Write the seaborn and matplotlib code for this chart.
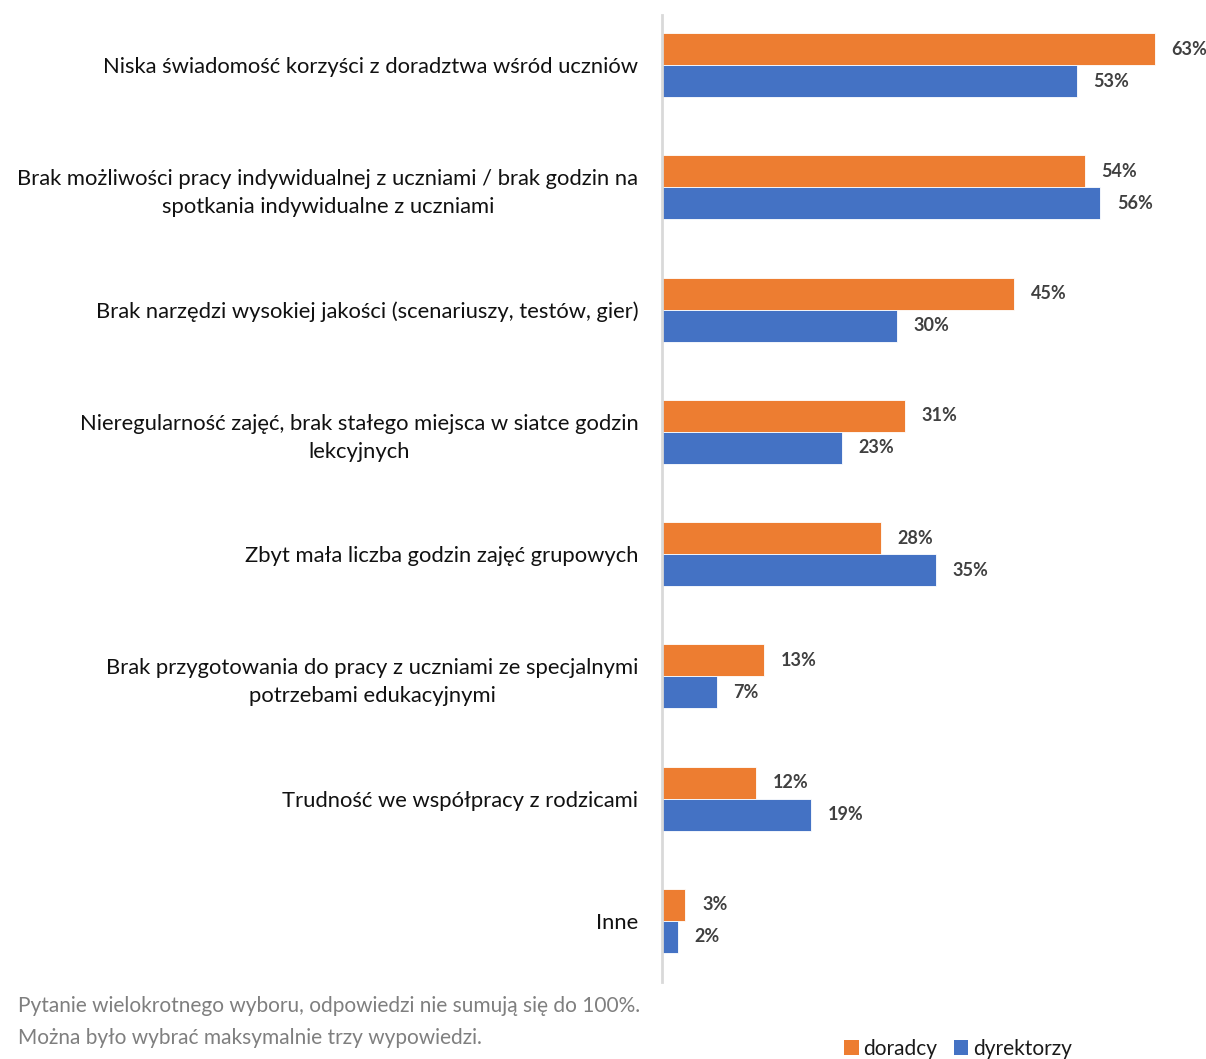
import matplotlib
matplotlib.use("Agg")
import matplotlib.pyplot as plt
import seaborn as sns
import pandas as pd
from matplotlib.patches import Patch

categories = [
    "Niska świadomość korzyści z doradztwa wśród uczniów",
    "Brak możliwości pracy indywidualnej z uczniami / brak godzin na\nspotkania indywidualne z uczniami",
    "Brak narzędzi wysokiej jakości (scenariuszy, testów, gier)",
    "Nieregularność zajęć, brak stałego miejsca w siatce godzin\nlekcyjnych",
    "Zbyt mała liczba godzin zajęć grupowych",
    "Brak przygotowania do pracy z uczniami ze specjalnymi\npotrzebami edukacyjnymi",
    "Trudność we współpracy z rodzicami",
    "Inne",
]
doradcy = [63, 54, 45, 31, 28, 13, 12, 3]
dyrektorzy = [53, 56, 30, 23, 35, 7, 19, 2]
series_names = ["doradcy", "dyrektorzy"]
colors = ["#ED7D31", "#4472C4"]

df = pd.DataFrame({
    "kategoria": categories * 2,
    "grupa": [series_names[0]] * len(categories) + [series_names[1]] * len(categories),
    "wartosc": doradcy + dyrektorzy,
})

sns.set_theme(style="white")
plt.rcParams["font.family"] = ["Lato", "DejaVu Sans"]

fig = plt.figure(figsize=(12.06, 10.59), dpi=100)
ax = fig.add_axes([662 / 1206, 1 - 982 / 1059, 1 - 662 / 1206, (982 - 15) / 1059])

sns.barplot(
    data=df, y="kategoria", x="wartosc", hue="grupa", orient="h",
    order=categories, hue_order=series_names, palette=colors,
    width=0.525, saturation=1, legend=False, ax=ax,
    edgecolor="white", linewidth=0.6,
)

for cont in ax.containers:
    ax.bar_label(cont, labels=[f"{v:.0f}%" for v in cont.datavalues],
                 padding=12, fontsize=13, fontweight="bold", color="#404040")

ax.set_xlim(0, (1206 - 662) / 7.825)
ax.set_ylim(7.5, -0.41)
ax.set_xlabel("")
ax.set_ylabel("")
ax.set_xticks([])
ax.tick_params(axis="y", length=0, pad=17, labelsize=15.8, labelcolor="#111111")
for lbl in ax.get_yticklabels():
    lbl.set_multialignment("center")
    lbl.set_linespacing(1.5)

for side in ["top", "right", "bottom"]:
    ax.spines[side].set_visible(False)
ax.spines["left"].set_color("#d9d9d9")
ax.spines["left"].set_linewidth(2)

fig.text(18 / 1206, 1 - 1006 / 1059, "Pytanie wielokrotnego wyboru, odpowiedzi nie sumują się do 100%.",
         fontsize=15, color="#7f7f7f", va="center", ha="left")
fig.text(18 / 1206, 1 - 1038 / 1059, "Można było wybrać maksymalnie trzy wypowiedzi.",
         fontsize=15, color="#7f7f7f", va="center", ha="left")

handles = [Patch(facecolor=c, edgecolor="none") for c in colors]
fig.legend(handles, series_names, loc="center", bbox_to_anchor=(958 / 1206, 1 - 1049 / 1059),
           ncol=2, frameon=False, fontsize=15, handlelength=0.7, handleheight=0.7,
           handletextpad=0.2, columnspacing=0.8, labelcolor="#1a1a1a")

fig.savefig("out.png", dpi=100)
